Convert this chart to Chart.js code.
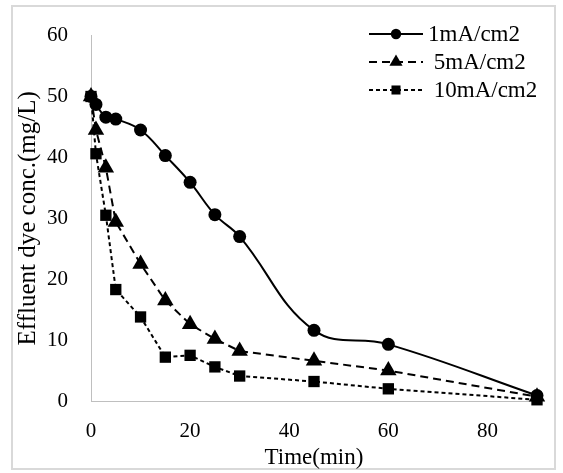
<!DOCTYPE html>
<html>
<head>
<meta charset="utf-8">
<script src="https://cdn.jsdelivr.net/npm/chart.js@4.4.0/dist/chart.umd.min.js"></script>
<style>
  html, body { margin: 0; padding: 0; background: #fff; }
  #wrap { width: 563px; height: 473px; }
</style>
</head>
<body>
<div id="wrap"><canvas id="chart" width="563" height="473"></canvas></div>
<script>
// data
const times = [0, 1, 3, 5, 10, 15, 20, 25, 30, 45, 60, 90];
const conc1mA = [50, 48.7, 46.6, 46.3, 44.5, 40.3, 35.9, 30.6, 27.0, 11.6, 9.3, 0.9];
const conc5mA = [50, 44.5, 38.3, 29.4, 22.5, 16.5, 12.6, 10.2, 8.2, 6.6, 5.0, 0.7];
const conc10mA = [50, 40.6, 30.5, 18.3, 13.8, 7.2, 7.5, 5.6, 4.1, 3.2, 2.0, 0.2];
const seriesLabels = ['1mA/cm2', ' 5mA/cm2', ' 10mA/cm2'];
const xTicks = [0, 20, 40, 60, 80];

const serif = '"Liberation Serif", "Times New Roman", serif';
const toPoints = ys => times.map((t, i) => ({ x: t, y: ys[i] }));

// === FRAME + EXCEL-STYLE LEGEND ===
const frameAndLegend = {
  id: 'frameAndLegend',
  beforeDraw(chart) {
    const c = chart.ctx;
    c.save();
    c.fillStyle = '#fff';
    c.fillRect(0, 0, chart.width, chart.height);
    c.strokeStyle = '#d9d9d9';
    c.lineWidth = 2;
    c.strokeRect(12, 6, 543, 463);
    c.restore();
  },
  afterDraw(chart) {
    const c = chart.ctx;
    c.save();
    chart.data.datasets.forEach((ds, i) => {
      const y = 34 + i * 28;
      c.strokeStyle = '#000';
      c.lineWidth = 2;
      c.setLineDash(ds.borderDash || []);
      c.beginPath();
      c.moveTo(369, y);
      c.lineTo(423, y);
      c.stroke();
      c.setLineDash([]);
      c.fillStyle = '#000';
      Chart.helpers.drawPoint(c, { pointStyle: ds.pointStyle, radius: ds.pointRadius * 0.8, borderWidth: 0, rotation: 0 }, 396, y);
      c.font = '23px ' + serif;
      c.textBaseline = 'middle';
      c.textAlign = 'left';
      c.fillText(ds.label, 428, y + 1);
    });
    c.restore();
  }
};

const common = { borderColor: '#000', backgroundColor: '#000', borderWidth: 2, clip: false, pointBorderWidth: 0 };

new Chart(document.getElementById('chart'), {
  type: 'line',
  data: {
    datasets: [
      { ...common, label: seriesLabels[0], data: toPoints(conc1mA), pointStyle: 'circle', pointRadius: 6.5, tension: 0.4 },
      { ...common, label: seriesLabels[1], data: toPoints(conc5mA), pointStyle: 'triangle', pointRadius: 9.5, borderDash: [8, 5], tension: 0 },
      { ...common, label: seriesLabels[2], data: toPoints(conc10mA), pointStyle: 'rect', pointRadius: 8, borderDash: [4, 3], tension: 0 }
    ]
  },
  options: {
    responsive: false,
    animation: false,
    layout: { padding: { top: 24, right: 26, left: 0, bottom: 0 } },
    plugins: { legend: { display: false }, tooltip: { enabled: false } },
    scales: {
      x: {
        type: 'linear', min: 0, max: 90,
        afterBuildTicks: s => { s.ticks = xTicks.map(v => ({ value: v })); },
        afterFit: s => { s.height = 72; },
        grid: { display: false, drawTicks: false },
        border: { display: true, color: '#bfbfbf', width: 1 },
        ticks: { padding: 18, color: '#000', maxRotation: 0, font: { family: serif, size: 21 } },
        title: { display: true, text: 'Time(min)', color: '#000', font: { family: serif, size: 23 }, padding: { top: 0, bottom: 1 } }
      },
      y: {
        min: 0, max: 60,
        afterFit: s => { s.width = 91; },
        grid: { display: false, drawTicks: false },
        border: { display: true, color: '#bfbfbf', width: 1 },
        ticks: { stepSize: 10, padding: 23, color: '#000', font: { family: serif, size: 21 } },
        title: { display: true, text: 'Effluent dye conc.(mg/L)', color: '#000', font: { family: serif, size: 25 }, padding: { top: 13, bottom: 0 } }
      }
    }
  },
  plugins: [frameAndLegend]
});
</script>
</body>
</html>
